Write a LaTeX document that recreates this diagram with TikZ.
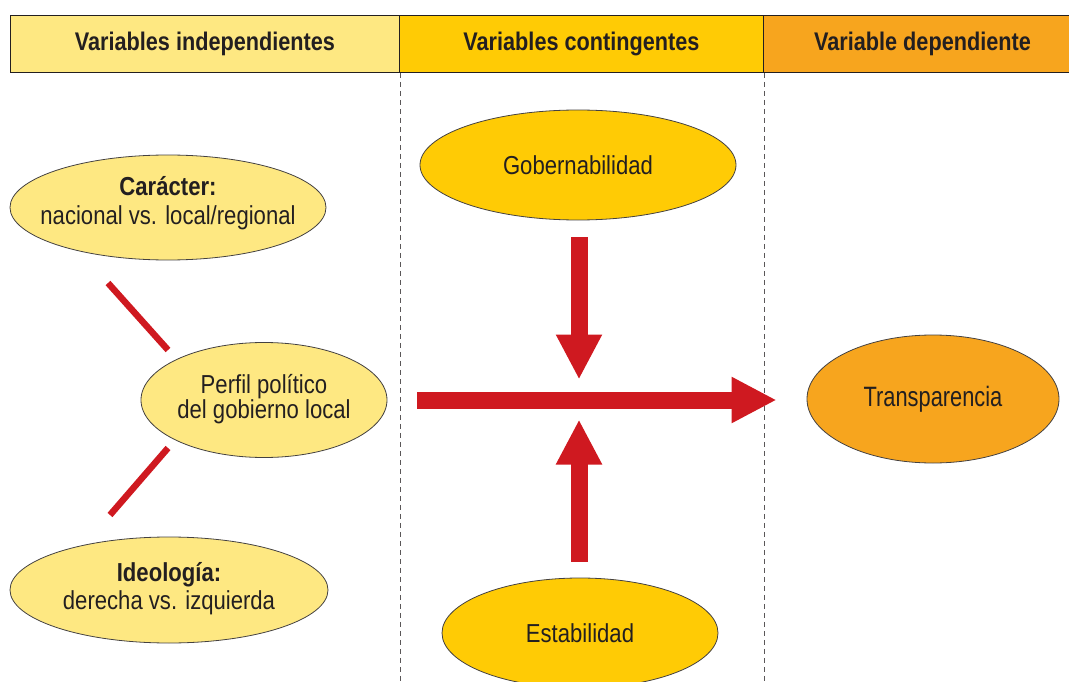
\documentclass[tikz,border=0pt]{standalone}
\usepackage{fontspec}
\setmainfont{Liberation Sans}[FakeStretch=0.85]
\usetikzlibrary{shapes.geometric,arrows.meta}
\definecolor{ylight}{HTML}{FEE882}
\definecolor{ymid}{HTML}{FFCB05}
\definecolor{yorange}{HTML}{F7A51E}
\definecolor{redarrow}{HTML}{CF1920}
\definecolor{txt}{HTML}{231F20}
\begin{document}
\begin{tikzpicture}[x=1pt,y=-1pt,
  hdr/.style={draw=txt, line width=0.9pt, minimum height=57pt, inner sep=0pt,
    font=\fontsize{25.5}{28}\selectfont\bfseries, text=txt, anchor=north west},
  ell/.style={ellipse, draw=txt!85, line width=0.8pt, inner sep=0pt},
  lbl/.style={text=txt, align=center, inner sep=0pt, font=\fontsize{26}{29}\selectfont},
  bigarrow/.style={draw=redarrow, line width=17pt, -{Triangle[length=45pt,width=43pt]}},
  slash/.style={draw=redarrow, line width=6.5pt},
  sep/.style={draw=txt!75, line width=0.8pt, dash pattern=on 5pt off 4pt}]
\useasboundingbox (0,0) rectangle (1069,682);
% header
\node[hdr, fill=ylight, minimum width=389pt] (h1) at (10,15) {Variables independientes};
\node[hdr, fill=ymid, minimum width=364pt] (h2) at (399,15) {Variables contingentes};
\node[hdr, fill=yorange, minimum width=320pt] (h3) at (763,15) {};
\node[font=\fontsize{25.5}{28}\selectfont\bfseries, text=txt] (h3t) at (922.5,43.5) {Variable dependiente};
% separators
\draw[sep] (h1.south east) -- (h1.south east |- 0,682);
\draw[sep] (h2.south east) -- (h2.south east |- 0,682);
% ellipses
\node[ell, fill=ylight, minimum width=316pt, minimum height=105pt] (car) at (168,207.5) {};
\node[lbl] (cart) at (168,203) {\textbf{Carácter:}\\nacional vs. local/regional};
\node[ell, fill=ylight, minimum width=246pt, minimum height=115pt] (perfil) at (264,400) {};
\node[lbl, font=\fontsize{26}{25.5}\selectfont] (perfilt) at (264,399) {Perfil político\\del gobierno local};
\node[ell, fill=ylight, minimum width=318pt, minimum height=106pt] (ideo) at (169,590) {};
\node[lbl, font=\fontsize{26}{28}\selectfont] (ideot) at (169,589) {\textbf{Ideología:}\\derecha vs. izquierda};
\node[ell, fill=ymid, minimum width=316pt, minimum height=110pt] (gob) at (578,165) {};
\node[lbl] (gobt) at (gob) {Gobernabilidad};
\node[ell, fill=ymid, minimum width=276pt, minimum height=110pt] (estab) at (580,633) {};
\node[lbl] (estabt) at (estab) {Estabilidad};
\node[ell, fill=yorange, minimum width=252pt, minimum height=128pt] (transp) at (933,399) {};
\node[lbl, font=\addfontfeatures{FakeStretch=0.78}\fontsize{28}{30}\selectfont] (transpt) at (transp) {Transparencia};
% arrows
\coordinate (cross) at (579,399.5);
\draw[bigarrow, shorten <=30pt, shorten >=30pt] (perfil.east) -- (perfil.east -| transp.west);
\draw[bigarrow, shorten <=17pt, shorten >=20pt] (gob.south -| cross) -- (cross);
\draw[bigarrow, shorten <=16pt, shorten >=20pt] (estab.north -| cross) -- (cross);
% slashes
\coordinate (s1a) at (108,283);
\coordinate (s1b) at (168,350);
\coordinate (s2a) at (168,448);
\coordinate (s2b) at (110,515);
\draw[slash] (s1a) -- (s1b);
\draw[slash] (s2a) -- (s2b);
\end{tikzpicture}
\end{document}
